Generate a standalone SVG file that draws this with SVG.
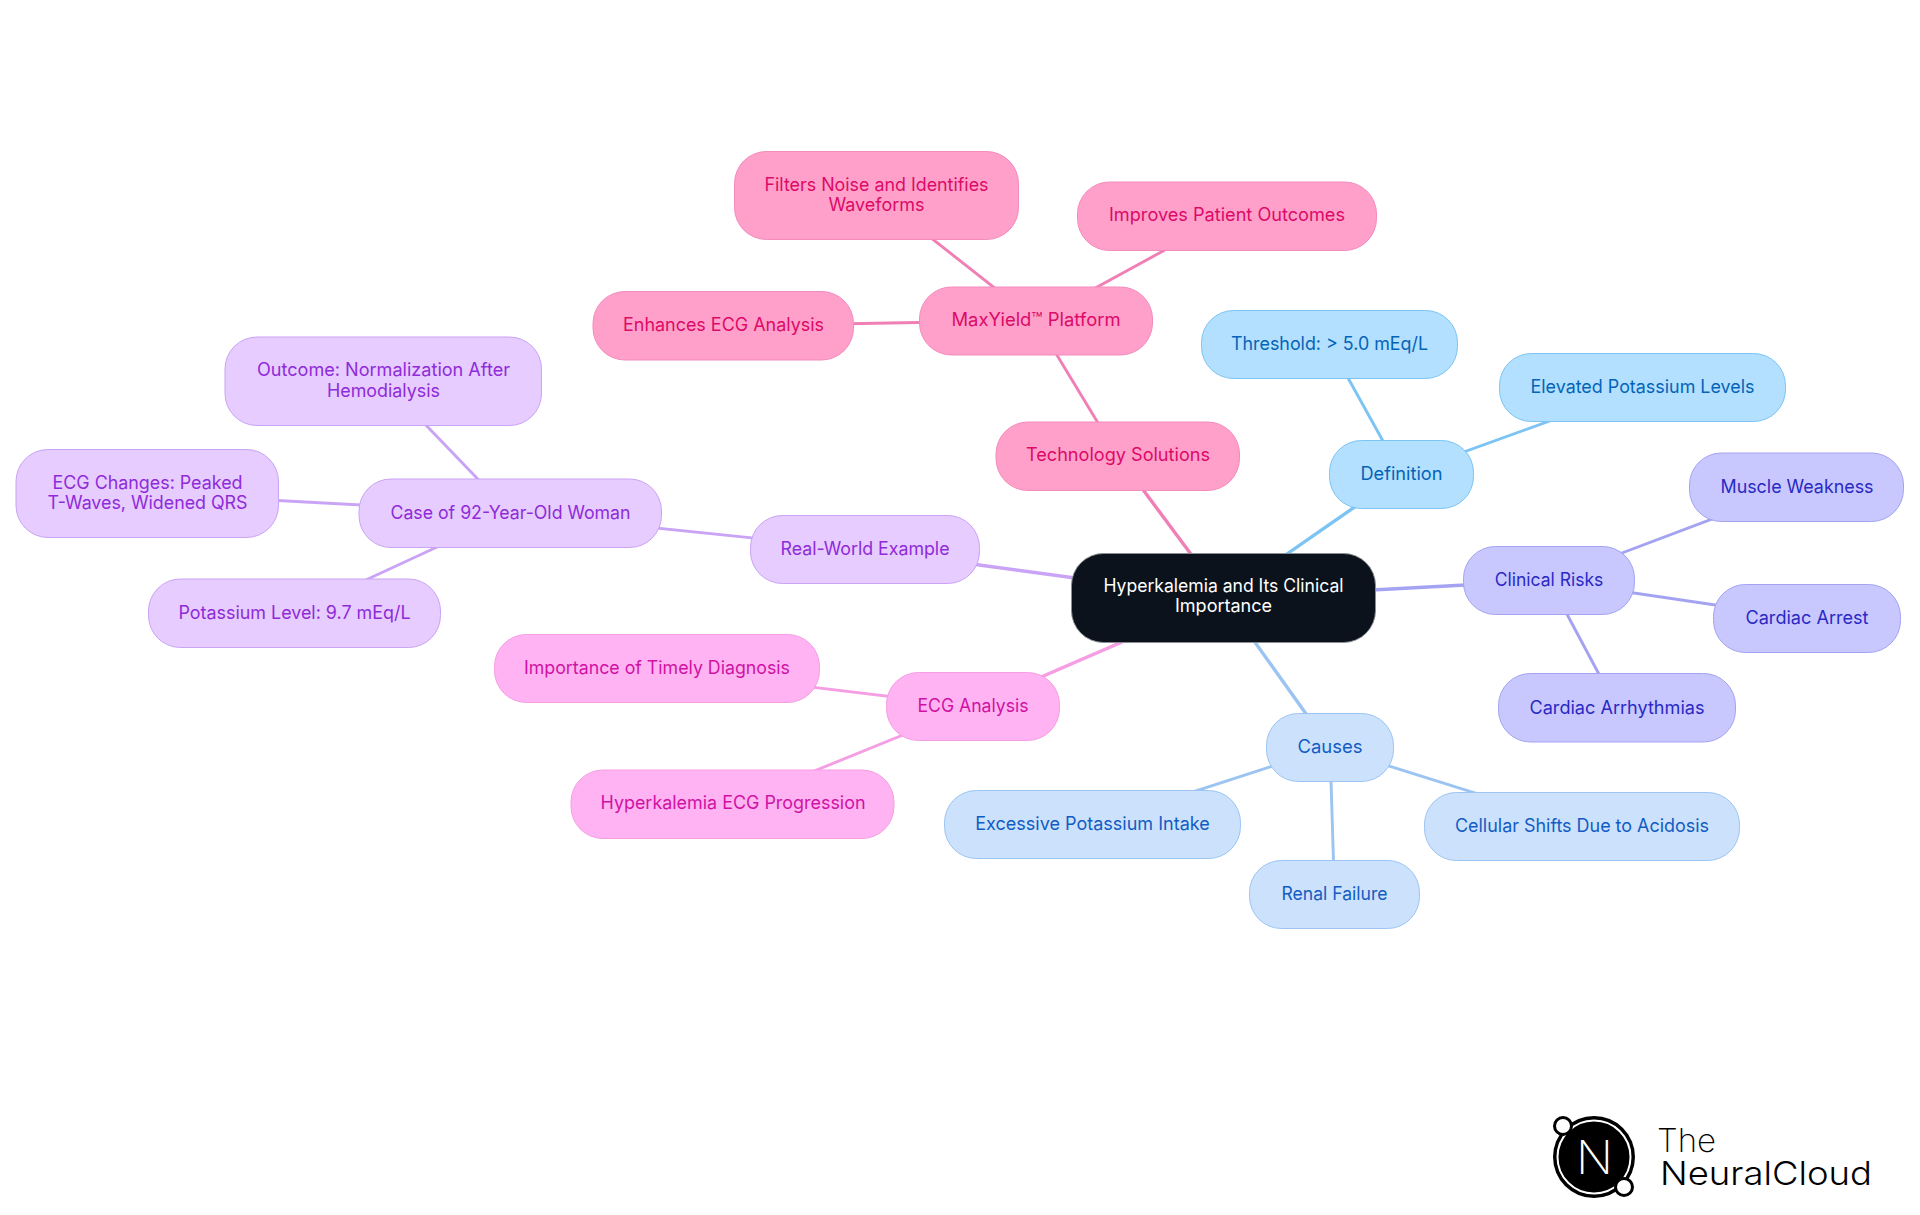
<svg xmlns="http://www.w3.org/2000/svg" width="1920" height="1215" viewBox="0 0 1920 1215">
<style>
text{font-family:"Inter","Noto Sans","Liberation Sans",sans-serif;font-size:18.4px;font-weight:375;text-anchor:middle}
g[class] text{transform:translateY(-.8px)}
.edge{fill:none;stroke-linecap:butt}
.e1{stroke-width:3.4}.e2{stroke-width:2.9}
.node rect{stroke-width:1}
.ro rect{fill:#0b121b;stroke:#8a8d91}.ro text{fill:#fff;font-weight:400}
.bl rect{fill:#b3e0ff;stroke:#7cc4f4}.bl text{fill:#0564b8}
.vi rect{fill:#c8c8ff;stroke:#a3a3f2}.vi text{fill:#2a2ac4}
.sk rect{fill:#cce2fc;stroke:#9cc4f2}.sk text{fill:#125cc4}
.mg rect{fill:#ffb3f2;stroke:#f59ee3}.mg text{fill:#cf12a4}
.pu rect{fill:#e6ccff;stroke:#c9a3f5}.pu text{fill:#8f2bd8}
.pk rect{fill:#ffa0ca;stroke:#f48bbd}.pk text{fill:#dc0a68}
.lb{stroke:#7cc4f4}.lv{stroke:#a3a3f2}.ls{stroke:#9cc4f2}.lm{stroke:#f59ee3}.lp{stroke:#c9a3f5}.lk{stroke:#f07fb5}
.logo{fill:#000;text-anchor:start;font-size:33px}
</style>
<rect width="1920" height="1215" fill="#fff"/>
<g id="connectors" class="edge">
<line class="e1 lb" x1="1223.5" y1="598" x2="1401.5" y2="474.5"/>
<line class="e2 lb" x1="1401.5" y1="474.5" x2="1329.5" y2="344.5"/>
<line class="e2 lb" x1="1401.5" y1="474.5" x2="1642.5" y2="387.5"/>
<line class="e1 lv" x1="1223.5" y1="598" x2="1549" y2="580.5"/>
<line class="e2 lv" x1="1549" y1="580.5" x2="1797" y2="487"/>
<line class="e2 lv" x1="1549" y1="580.5" x2="1807" y2="618.5"/>
<line class="e2 lv" x1="1549" y1="580.5" x2="1617" y2="708"/>
<line class="e1 ls" x1="1223.5" y1="598" x2="1330" y2="747.5"/>
<line class="e2 ls" x1="1330" y1="747.5" x2="1092.5" y2="824.5"/>
<line class="e2 ls" x1="1330" y1="747.5" x2="1334.5" y2="894.5"/>
<line class="e2 ls" x1="1330" y1="747.5" x2="1582" y2="826.5"/>
<line class="e1 lm" x1="1223.5" y1="598" x2="973" y2="706.5"/>
<line class="e2 lm" x1="973" y1="706.5" x2="657" y2="668.5"/>
<line class="e2 lm" x1="973" y1="706.5" x2="733" y2="804"/>
<line class="e1 lp" x1="1223.5" y1="598" x2="865" y2="549.5"/>
<line class="e2 lp" x1="865" y1="549.5" x2="510.5" y2="513"/>
<line class="e2 lp" x1="510.5" y1="513" x2="383.5" y2="381"/>
<line class="e2 lp" x1="510.5" y1="513" x2="147.5" y2="493.5"/>
<line class="e2 lp" x1="510.5" y1="513" x2="294.5" y2="613"/>
<line class="e1 lk" x1="1223.5" y1="598" x2="1118" y2="456"/>
<line class="e2 lk" x1="1118" y1="456" x2="1036" y2="320.5"/>
<line class="e2 lk" x1="1036" y1="320.5" x2="723.5" y2="326"/>
<line class="e2 lk" x1="1036" y1="320.5" x2="876.5" y2="195"/>
<line class="e2 lk" x1="1036" y1="320.5" x2="1227" y2="216"/>
</g>
<g id="root" class="node ro"><rect x="1071.500" y="553.500" width="304" height="89" rx="32"/><text x="1223.5" y="593" textLength="240" lengthAdjust="spacingAndGlyphs">Hyperkalemia and Its Clinical</text><text x="1223.5" y="613" textLength="97" lengthAdjust="spacingAndGlyphs">Importance</text></g>
<g id="definition" class="node bl"><rect x="1329.500" y="440.500" width="144" height="68" rx="32"/><text x="1401.5" y="481" textLength="82" lengthAdjust="spacingAndGlyphs">Definition</text></g>
<g id="threshold" class="node bl"><rect x="1201.500" y="310.500" width="256" height="68" rx="32"/><text x="1329.5" y="351" textLength="197" lengthAdjust="spacingAndGlyphs">Threshold: &gt; 5.0 mEq/L</text></g>
<g id="elevated" class="node bl"><rect x="1499.500" y="353.500" width="286" height="68" rx="32"/><text x="1642.5" y="394" textLength="224" lengthAdjust="spacingAndGlyphs">Elevated Potassium Levels</text></g>
<g id="clinical-risks" class="node vi"><rect x="1463.500" y="546.500" width="171" height="68" rx="32"/><text x="1549" y="587" textLength="108.5" lengthAdjust="spacingAndGlyphs">Clinical Risks</text></g>
<g id="muscle-weakness" class="node vi"><rect x="1689.500" y="453" width="214" height="68.500" rx="32"/><text x="1797" y="493.500" textLength="153" lengthAdjust="spacingAndGlyphs">Muscle Weakness</text></g>
<g id="cardiac-arrest" class="node vi"><rect x="1713.500" y="584.500" width="187" height="68" rx="32"/><text x="1807" y="625" textLength="123" lengthAdjust="spacingAndGlyphs">Cardiac Arrest</text></g>
<g id="cardiac-arrhythmias" class="node vi"><rect x="1498.500" y="673.500" width="237" height="68.500" rx="32"/><text x="1617" y="714.500" textLength="175" lengthAdjust="spacingAndGlyphs">Cardiac Arrhythmias</text></g>
<g id="causes" class="node sk"><rect x="1266.500" y="713.500" width="127" height="68" rx="32"/><text x="1330" y="753.500" textLength="65" lengthAdjust="spacingAndGlyphs">Causes</text></g>
<g id="excessive-intake" class="node sk"><rect x="944.500" y="790.500" width="296" height="68" rx="32"/><text x="1092.500" y="830.500" textLength="234.500" lengthAdjust="spacingAndGlyphs">Excessive Potassium Intake</text></g>
<g id="renal-failure" class="node sk"><rect x="1249.500" y="860.500" width="170" height="68" rx="32"/><text x="1334.500" y="900.500" textLength="106" lengthAdjust="spacingAndGlyphs">Renal Failure</text></g>
<g id="cellular-shifts" class="node sk"><rect x="1424.500" y="792.500" width="315" height="68" rx="32"/><text x="1582" y="832.500" textLength="254" lengthAdjust="spacingAndGlyphs">Cellular Shifts Due to Acidosis</text></g>
<g id="ecg-analysis" class="node mg"><rect x="886.500" y="672.500" width="173" height="68" rx="32"/><text x="973" y="712.500" textLength="111" lengthAdjust="spacingAndGlyphs">ECG Analysis</text></g>
<g id="timely-diagnosis" class="node mg"><rect x="494.500" y="634.500" width="325" height="68" rx="32"/><text x="657" y="674.500" textLength="266" lengthAdjust="spacingAndGlyphs">Importance of Timely Diagnosis</text></g>
<g id="ecg-progression" class="node mg"><rect x="571" y="770" width="323" height="68.500" rx="32"/><text x="733" y="809.500" textLength="265" lengthAdjust="spacingAndGlyphs">Hyperkalemia ECG Progression</text></g>
<g id="real-world" class="node pu"><rect x="750.500" y="515.500" width="229" height="68" rx="32"/><text x="865" y="555.500" textLength="169" lengthAdjust="spacingAndGlyphs">Real-World Example</text></g>
<g id="case" class="node pu"><rect x="359" y="479" width="302.500" height="68.500" rx="32"/><text x="510.500" y="519.500" textLength="240" lengthAdjust="spacingAndGlyphs">Case of 92-Year-Old Woman</text></g>
<g id="outcome" class="node pu"><rect x="225" y="337" width="316.500" height="88.500" rx="32"/><text x="383.500" y="376.500" textLength="253" lengthAdjust="spacingAndGlyphs">Outcome: Normalization After</text><text x="383.500" y="397.500" textLength="113" lengthAdjust="spacingAndGlyphs">Hemodialysis</text></g>
<g id="ecg-changes" class="node pu"><rect x="16" y="449.500" width="262.500" height="88" rx="32"/><text x="147.500" y="489.500" textLength="190" lengthAdjust="spacingAndGlyphs">ECG Changes: Peaked</text><text x="147.500" y="509.500" textLength="200" lengthAdjust="spacingAndGlyphs">T-Waves, Widened QRS</text></g>
<g id="potassium-level" class="node pu"><rect x="148.500" y="579" width="292" height="68.500" rx="32"/><text x="294.500" y="619.500" textLength="232" lengthAdjust="spacingAndGlyphs">Potassium Level: 9.7 mEq/L</text></g>
<g id="technology" class="node pk"><rect x="996" y="422" width="243.500" height="68.500" rx="32"/><text x="1118" y="461.500" textLength="184" lengthAdjust="spacingAndGlyphs">Technology Solutions</text></g>
<g id="maxyield" class="node pk"><rect x="919.500" y="287" width="233" height="68" rx="32"/><text x="1036" y="326.500" textLength="169" lengthAdjust="spacingAndGlyphs">MaxYield™ Platform</text></g>
<g id="enhances" class="node pk"><rect x="593" y="291.500" width="260.500" height="68.500" rx="32"/><text x="723.500" y="331.500" textLength="201" lengthAdjust="spacingAndGlyphs">Enhances ECG Analysis</text></g>
<g id="filters" class="node pk"><rect x="734.500" y="151.500" width="284" height="88" rx="32"/><text x="876.500" y="191.500" textLength="224" lengthAdjust="spacingAndGlyphs">Filters Noise and Identifies</text><text x="876.500" y="211.500" textLength="96" lengthAdjust="spacingAndGlyphs">Waveforms</text></g>
<g id="improves" class="node pk"><rect x="1077.500" y="182" width="299" height="68.500" rx="32"/><text x="1227" y="222" textLength="236" lengthAdjust="spacingAndGlyphs">Improves Patient Outcomes</text></g>
<g id="logo">
<circle cx="1594" cy="1157" r="41" fill="#000"/>
<circle cx="1594" cy="1157" r="36.500" fill="none" stroke="#fff" stroke-width="2"/>
<circle cx="1563" cy="1126" r="8.500" fill="#fff" stroke="#000" stroke-width="3"/>
<circle cx="1624" cy="1187" r="8.500" fill="#fff" stroke="#000" stroke-width="3"/>
<text x="1594.500" y="1174" style="font-size:47px;font-weight:200;fill:#fff" textLength="37" lengthAdjust="spacingAndGlyphs">N</text>
<text class="logo"><tspan x="1657" y="1152" style="font-weight:200">The</tspan><tspan x="1660" y="1185" style="font-weight:350" textLength="212" lengthAdjust="spacingAndGlyphs">NeuralCloud</tspan></text>
</g>
</svg>
